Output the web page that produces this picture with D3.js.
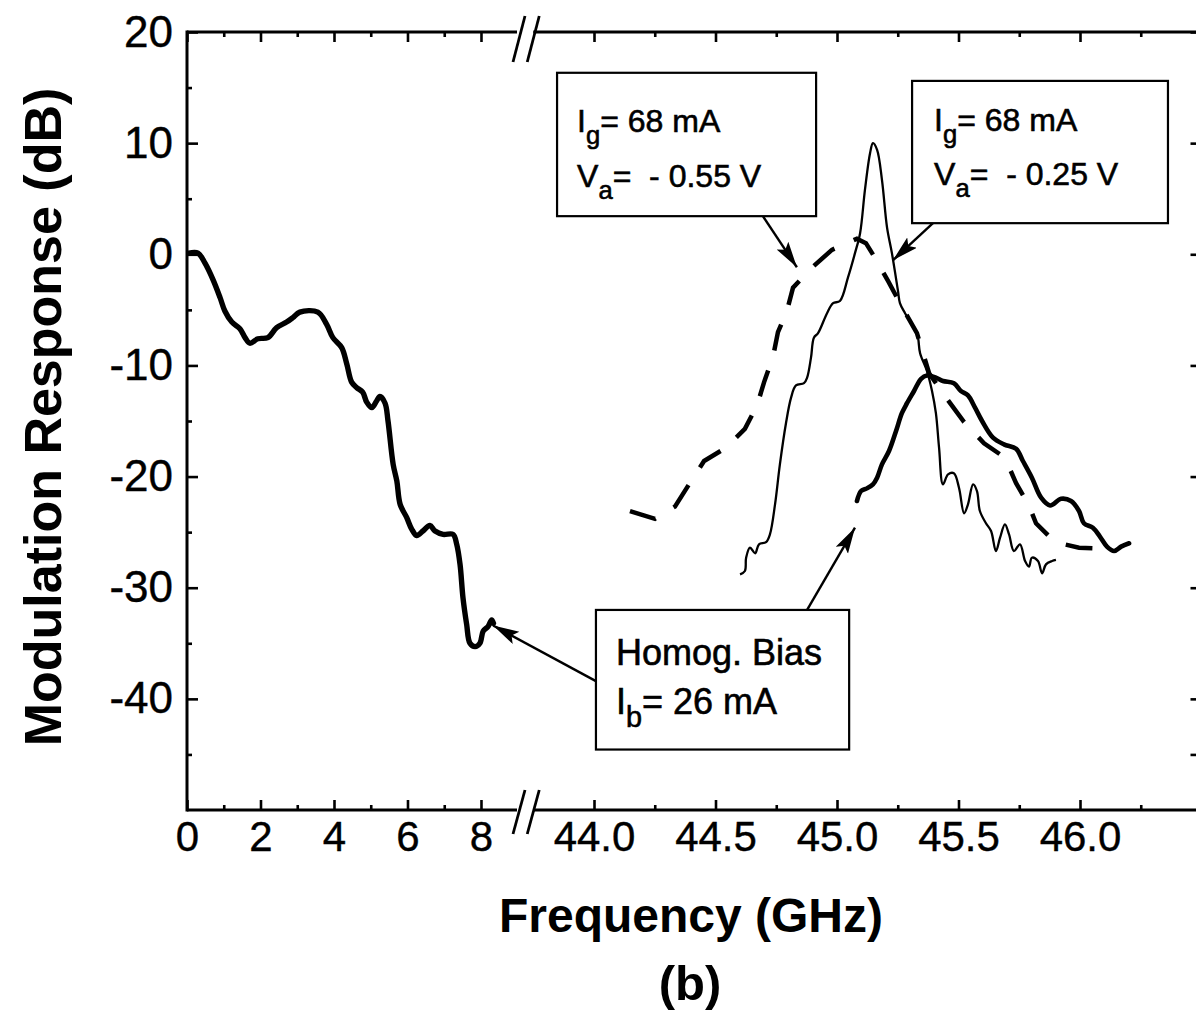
<!DOCTYPE html>
<html><head><meta charset="utf-8">
<script src="https://cdn.jsdelivr.net/npm/d3@7"></script>
<style>body{margin:0;background:#fff}svg{display:block}</style>
</head><body>
<svg id="chart" width="1196" height="1013"></svg>
<script>
// ---------- data ----------
const lowBandMajorTicks = [0, 2, 4, 6, 8];
const lowBandMinorTicks = [1, 3, 5, 7];
const highBandMajorTicks = [44.0, 44.5, 45.0, 45.5, 46.0];
const highBandMinorTicks = [44.25, 44.75, 45.25, 45.75, 46.25];
const highBandTickLabels = ["44.0", "44.5", "45.0", "45.5", "46.0"];
const yMajorTicks = [-40, -30, -20, -10, 0, 10, 20];
const yMinorTicks = [-45, -35, -25, -15, -5, 5, 15];

// Homogeneous bias, I_b = 26 mA, low-frequency band (GHz, dB)
const homogBiasLow = [[0.05,0.1],[0.3,0.1],[0.49,-0.8],[0.71,-2.3],[0.9,-3.9],[1.03,-5.1],[1.22,-6.1],[1.44,-6.7],[1.58,-7.5],[1.71,-8.0],[1.93,-7.6],[2.2,-7.5],[2.44,-6.6],[2.71,-6.1],[2.88,-5.7],[3.07,-5.2],[3.56,-5.2],[3.8,-6.3],[3.97,-7.5],[4.21,-8.4],[4.35,-9.9],[4.48,-11.5],[4.62,-12.0],[4.78,-12.4],[4.89,-13.3],[5.03,-13.8],[5.16,-13.2],[5.25,-12.8],[5.39,-13.4],[5.47,-15.0],[5.61,-18.9],[5.71,-20.4],[5.8,-22.5],[5.98,-23.7],[6.11,-24.7],[6.25,-25.3],[6.42,-24.9],[6.61,-24.4],[6.75,-24.9],[6.97,-25.2],[7.24,-25.2],[7.34,-26.1],[7.43,-27.9],[7.51,-30.9],[7.61,-33.3],[7.7,-35.0],[7.84,-35.3],[7.97,-35.0],[8.06,-33.9],[8.19,-33.5],[8.29,-32.9],[8.34,-33.2]];

// Homogeneous bias, I_b = 26 mA, around 45 GHz
const homogBiasHigh = [[45.082,-22.2],[45.099,-21.3],[45.119,-21.1],[45.148,-20.7],[45.165,-20.1],[45.185,-18.9],[45.214,-17.7],[45.243,-15.9],[45.267,-14.3],[45.288,-13.4],[45.317,-12.3],[45.346,-11.2],[45.37,-10.9],[45.407,-11.1],[45.436,-11.4],[45.481,-11.6],[45.51,-12.3],[45.539,-12.7],[45.568,-13.8],[45.597,-15.0],[45.642,-16.5],[45.687,-17.1],[45.737,-17.5],[45.765,-18.6],[45.802,-20.1],[45.84,-21.9],[45.877,-22.6],[45.922,-22.0],[45.963,-22.2],[45.996,-23.1],[46.016,-24.2],[46.053,-24.6],[46.082,-25.4],[46.111,-26.3],[46.14,-26.7],[46.169,-26.3],[46.202,-26.0]];

// I_g = 68 mA, V_a = -0.55 V (dashed)
const gainVa055 = [[44.148,-23.1],[44.251,-23.8],[44.333,-22.7],[44.391,-20.7],[44.453,-18.6],[44.543,-17.4],[44.621,-15.7],[44.671,-13.6],[44.7,-11.5],[44.737,-9.2],[44.757,-7.0],[44.794,-5.1],[44.819,-3.0],[44.897,-1.2],[44.979,0.4],[45.082,1.4],[45.119,1.0],[45.156,-0.3],[45.21,-2.4],[45.259,-4.4],[45.329,-7.1],[45.379,-10.7],[45.449,-12.9],[45.523,-15.1],[45.605,-17.0],[45.691,-18.3],[45.737,-20.6],[45.79,-22.6],[45.819,-24.2],[45.897,-25.9],[45.996,-26.4],[46.111,-26.5]];

// I_g = 68 mA, V_a = -0.25 V (thin solid)
const gainVa025 = [[44.601,-28.8],[44.621,-28.5],[44.626,-27.3],[44.642,-26.4],[44.663,-26.9],[44.679,-26.1],[44.708,-25.9],[44.724,-25.2],[44.745,-22.5],[44.765,-18.9],[44.79,-15.2],[44.811,-12.9],[44.831,-11.8],[44.864,-11.6],[44.877,-11.1],[44.893,-9.3],[44.905,-7.5],[44.922,-7.1],[44.959,-5.3],[44.984,-4.4],[45.012,-4.2],[45.045,-2.1],[45.074,0.1],[45.095,1.9],[45.115,5.8],[45.136,9.1],[45.148,10.0],[45.165,9.4],[45.185,6.7],[45.206,2.4],[45.226,0.1],[45.251,-3.3],[45.259,-4.4],[45.28,-5.3],[45.329,-7.1],[45.342,-8.9],[45.37,-10.5],[45.391,-12.3],[45.407,-14.3],[45.42,-17.4],[45.436,-20.7],[45.457,-19.8],[45.481,-19.7],[45.502,-21.0],[45.523,-23.3],[45.539,-22.5],[45.56,-20.7],[45.576,-21.3],[45.588,-23.1],[45.613,-24.2],[45.634,-24.9],[45.654,-26.7],[45.671,-25.5],[45.691,-24.3],[45.708,-25.2],[45.728,-26.7],[45.753,-26.1],[45.774,-27.6],[45.79,-28.1],[45.802,-27.3],[45.827,-27.6],[45.844,-28.7],[45.86,-27.9],[45.885,-27.6],[45.901,-27.5]];

// annotation boxes (corners in data units of the high band) and arrows
const annotationBoxes = [
  {x0:43.848, y0:16.33, x1:44.914, y1:3.43, lines:[["I","g","= 68 mA"],["V","a","=\u00a0\u00a0- 0.55 V"]], size:32, dx:20, base:[59,114]},
  {x0:45.309, y0:15.6, x1:46.362, y1:2.8, lines:[["I","g","= 68 mA"],["V","a","=\u00a0\u00a0- 0.25 V"]], size:32, dx:22, base:[50,104]},
  {x0:44.008, y0:-32.0, x1:45.05, y1:-44.56, lines:[["Homog. Bias","",""],["I","b","= 26 mA"]], size:36, dx:20, base:[55,104]}
];
const arrows = [
  {from:["H",44.695,3.43], to:["H",44.835,-1.17]},
  {from:["H",45.395,2.8], to:["H",45.23,-0.54]},
  {from:["H",44.008,-38.4], to:["L",8.33,-33.4]},
  {from:["H",44.877,-32.0], to:["H",45.074,-24.6]}
];

// ---------- scales ----------
const svg = d3.select("#chart");
const font = "'Liberation Sans', Arial, Helvetica, sans-serif";
const y = d3.scaleLinear().domain([-50, 20]).range([810, 32]);
const xL = d3.scaleLinear().domain([0, 8.98]).range([187, 517]);
const xR = d3.scaleLinear().domain([43.75, 46.5]).range([533.25, 1201.5]);
const X = (seg, v) => seg === "L" ? xL(v) : xR(v);

const yTop = y.range()[1], yBot = y.range()[0];

// ---------- axes ----------
function styleAxis(g, labelSize) {
  g.select(".domain").remove();
  g.selectAll(".tick line").attr("stroke", "#000").attr("stroke-width", 2.6);
  g.selectAll(".tick text").attr("fill", "#000").attr("font-family", font).attr("font-size", labelSize)
    .attr("stroke", "#000").attr("stroke-width", 0.4);
}
// bottom
[[xL, lowBandMajorTicks, lowBandMinorTicks, d => String(d)],
 [xR, highBandMajorTicks, highBandMinorTicks, (d, i) => highBandTickLabels[i]]].forEach(([sc, maj, min, fmt]) => {
  svg.append("g").attr("transform", `translate(0,${yBot})`)
    .call(d3.axisBottom(sc).tickValues(min).tickSize(-5).tickFormat(""))
    .call(g => styleAxis(g, 0));
  svg.append("g").attr("transform", `translate(0,${yBot})`)
    .call(d3.axisBottom(sc).tickValues(maj).tickSize(-10).tickPadding(11).tickFormat(fmt))
    .call(g => styleAxis(g, 42));
  // top mirror
  svg.append("g").attr("transform", `translate(0,${yTop})`)
    .call(d3.axisTop(sc).tickValues(min).tickSize(-5).tickFormat(""))
    .call(g => styleAxis(g, 0));
  svg.append("g").attr("transform", `translate(0,${yTop})`)
    .call(d3.axisTop(sc).tickValues(maj).tickSize(-10).tickFormat(""))
    .call(g => styleAxis(g, 0));
  // axis lines
  [yBot, yTop].forEach(yy => svg.append("line")
    .attr("x1", sc.range()[0]).attr("x2", sc.range()[1]).attr("y1", yy).attr("y2", yy)
    .attr("stroke", "#000").attr("stroke-width", 3));
});
// left
const xLeftAxis = xL.range()[0];
svg.append("g").attr("transform", `translate(${xLeftAxis},0)`)
  .call(d3.axisLeft(y).tickValues(yMinorTicks).tickSize(-5).tickFormat(""))
  .call(g => styleAxis(g, 0));
svg.append("g").attr("transform", `translate(${xLeftAxis},0)`)
  .call(d3.axisLeft(y).tickValues(yMajorTicks).tickSize(-11).tickPadding(14).tickFormat(d => String(d)))
  .call(g => styleAxis(g, 44));
svg.append("line").attr("x1", xLeftAxis).attr("x2", xLeftAxis).attr("y1", yTop - 1.5).attr("y2", yBot + 1.5)
  .attr("stroke", "#000").attr("stroke-width", 3);
// right (frame just outside the view)
const xRightAxis = xR.range()[1];
svg.append("g").attr("transform", `translate(${xRightAxis},0)`)
  .call(d3.axisRight(y).tickValues(yMajorTicks.concat([-45])).tickSize(-11).tickFormat(""))
  .call(g => styleAxis(g, 0));

// axis break marks
const gapL = xL.range()[1], gapR = xR.range()[0];
[[yBot, 24, -20], [yTop, 30, -16]].forEach(([yy, dn, up]) => {
  [gapL - 4, gapR - 6].forEach(xx => {
    svg.append("line").attr("x1", xx).attr("y1", yy + dn).attr("x2", xx + 12).attr("y2", yy + up)
      .attr("stroke", "#000").attr("stroke-width", 2.8);
  });
});

// ---------- curves ----------
const lineOf = seg => d3.line().x(d => X(seg, d[0])).y(d => y(d[1])).curve(d3.curveCatmullRom.alpha(0.5));
svg.append("path").datum(homogBiasLow).attr("d", lineOf("L"))
  .attr("fill", "none").attr("stroke", "#000").attr("stroke-width", 5.4).attr("stroke-linejoin", "round").attr("stroke-linecap", "round");
svg.append("path").datum(homogBiasHigh).attr("d", lineOf("H"))
  .attr("fill", "none").attr("stroke", "#000").attr("stroke-width", 4.6).attr("stroke-linejoin", "round").attr("stroke-linecap", "round");
svg.append("path").datum(gainVa025).attr("d", lineOf("H"))
  .attr("fill", "none").attr("stroke", "#000").attr("stroke-width", 2.3).attr("stroke-linejoin", "round");
svg.append("path").datum(gainVa055).attr("d", d3.line().x(d => xR(d[0])).y(d => y(d[1])))
  .attr("fill", "none").attr("stroke", "#000").attr("stroke-width", 4.5).attr("stroke-dasharray", "27 21");

// ---------- annotations ----------
svg.append("defs").append("marker").attr("id", "ah")
  .attr("markerUnits", "userSpaceOnUse").attr("markerWidth", 28).attr("markerHeight", 16)
  .attr("refX", 26).attr("refY", 7).attr("orient", "auto")
  .append("path").attr("d", "M0,0 L26,7 L0,14 L5,7 Z").attr("fill", "#000");

arrows.forEach(a => {
  svg.append("line")
    .attr("x1", X(a.from[0], a.from[1])).attr("y1", y(a.from[2]))
    .attr("x2", X(a.to[0], a.to[1])).attr("y2", y(a.to[2]))
    .attr("stroke", "#000").attr("stroke-width", 2.4).attr("marker-end", "url(#ah)");
});

annotationBoxes.forEach(b => {
  const bx = xR(b.x0), by = y(b.y0), bw = xR(b.x1) - bx, bh = y(b.y1) - by;
  svg.append("rect").attr("x", bx).attr("y", by).attr("width", bw).attr("height", bh)
    .attr("fill", "#fff").attr("stroke", "#000").attr("stroke-width", 2.2);
  b.lines.forEach((ln, i) => {
    const t = svg.append("text").attr("x", bx + b.dx).attr("y", by + b.base[i])
      .attr("font-family", font).attr("font-size", b.size).attr("fill", "#000")
      .attr("stroke", "#000").attr("stroke-width", 0.6);
    t.append("tspan").text(ln[0]);
    if (ln[1]) {
      const sub = Math.round(b.size * 0.36);
      t.append("tspan").attr("dy", sub).attr("font-size", b.size * 0.8).text(ln[1]);
      t.append("tspan").attr("dy", -sub).text(ln[2]);
    }
  });
});

// ---------- titles ----------
svg.append("text").attr("transform", "translate(61,417) rotate(-90)").attr("text-anchor", "middle")
  .attr("font-family", font).attr("font-weight", "bold").attr("font-size", 52).text("Modulation Response (dB)");
svg.append("text").attr("x", 691).attr("y", 932).attr("text-anchor", "middle")
  .attr("font-family", font).attr("font-weight", "bold").attr("font-size", 48).text("Frequency (GHz)");
svg.append("text").attr("x", 690).attr("y", 1000).attr("text-anchor", "middle")
  .attr("font-family", font).attr("font-weight", "bold").attr("font-size", 49).text("(b)");
</script>
</body></html>
